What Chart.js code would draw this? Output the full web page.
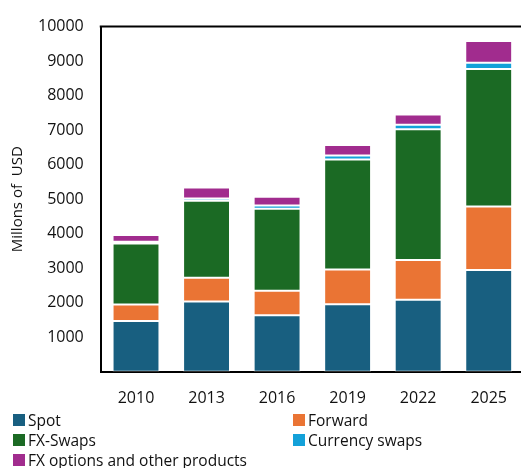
<!DOCTYPE html>
<html>
<head>
<meta charset="utf-8">
<script src="https://cdn.jsdelivr.net/npm/chart.js@4/dist/chart.umd.min.js"></script>
<style>
  html, body { margin: 0; padding: 0; background: #fff; overflow: hidden; }
  #wrap { position: relative; width: 521px; height: 468px; overflow: hidden; }
  #chart { position: absolute; left: 0; top: 0; }
  #legend {
    position: absolute; left: 13px; top: 410px; width: 508px;
    display: grid; grid-template-columns: 280px 220px;
    font-family: "Open Sans", sans-serif; font-size: 15.5px; color: #111;
  }
  #legend .item { display: flex; align-items: center; height: 20px; white-space: nowrap; }
  #legend .box { width: 12px; height: 12px; margin-right: 3px; }
</style>
</head>
<body>
<div id="wrap">
  <canvas id="chart" width="524" height="468"></canvas>
  <div id="legend"></div>
</div>
<script>
const years = ["2010", "2013", "2016", "2019", "2022", "2025"];
const spot = [1470, 2035, 1640, 1960, 2085, 2950];
const forward = [480, 690, 710, 1000, 1155, 1840];
const fxSwaps = [1770, 2230, 2375, 3190, 3785, 3980];
const currencySwaps = [45, 65, 95, 115, 135, 180];
const options = [195, 320, 250, 305, 295, 630];
const yTicks = [0, 1000, 2000, 3000, 4000, 5000, 6000, 7000, 8000, 9000, 10000];

const series = [
    { label: "Spot", data: spot, color: "#185f80" },
    { label: "Forward", data: forward, color: "#ea7434" },
    { label: "FX-Swaps", data: fxSwaps, color: "#1b6a24" },
    { label: "Currency swaps", data: currencySwaps, color: "#13a1d9" },
    { label: "FX options and other products", data: options, color: "#a12c8e" },
];

// frame: top line across the plot area
const framePlugin = {
    id: "frame",
    afterDraw(chart) {
        const { ctx, chartArea } = chart;
        ctx.save();
        ctx.strokeStyle = "#000";
        ctx.lineWidth = 2;
        ctx.beginPath();
        ctx.moveTo(chartArea.left - 1, chartArea.top);
        ctx.lineTo(chartArea.right, chartArea.top);
        ctx.stroke();
        ctx.restore();
    },
};

const ctx = document.getElementById("chart").getContext("2d");
new Chart(ctx, {
    type: "bar",
    data: {
        labels: years,
        datasets: series.map(s => ({
            label: s.label,
            data: s.data,
            backgroundColor: s.color,
            borderColor: "rgba(255,255,255,0.45)",
            borderWidth: 1,
            borderSkipped: false,
            categoryPercentage: 0.665,
            barPercentage: 1,
        })),
    },
    options: {
        responsive: false,
        animation: false,
        layout: { padding: { top: 20, right: 0, bottom: 43, left: 9 } },
        plugins: {
            legend: { display: false },
            tooltip: { enabled: false },
        },
        scales: {
            x: {
                stacked: true,
                grid: { display: false, drawTicks: false },
                border: { display: true, color: "#000", width: 2 },
                ticks: {
                    color: "#111",
                    padding: 17,
                    font: { family: "Open Sans", size: 16 },
                },
            },
            y: {
                stacked: true,
                min: yTicks[0],
                max: yTicks[yTicks.length - 1],
                afterBuildTicks(axis) {
                    axis.ticks = yTicks.map(v => ({ value: v }));
                },
                grid: { display: false, drawTicks: false },
                border: { display: true, color: "#000", width: 2 },
                ticks: {
                    color: "#111",
                    padding: 17,
                    font: { family: "Open Sans", size: 16 },
                    callback: v => (v === 0 ? "" : v),
                },
                title: {
                    display: true,
                    text: "Millons of  USD",
                    color: "#111",
                    padding: { top: 0, bottom: -6 },
                    font: { family: "Open Sans", size: 15 },
                },
            },
        },
    },
    plugins: [framePlugin],
});

// legend in two columns under the axis
const legend = document.getElementById("legend");
series.forEach(s => {
    const item = document.createElement("div");
    item.className = "item";
    const box = document.createElement("span");
    box.className = "box";
    box.style.background = s.color;
    const text = document.createElement("span");
    text.textContent = s.label;
    item.appendChild(box);
    item.appendChild(text);
    legend.appendChild(item);
});
</script>
</body>
</html>
